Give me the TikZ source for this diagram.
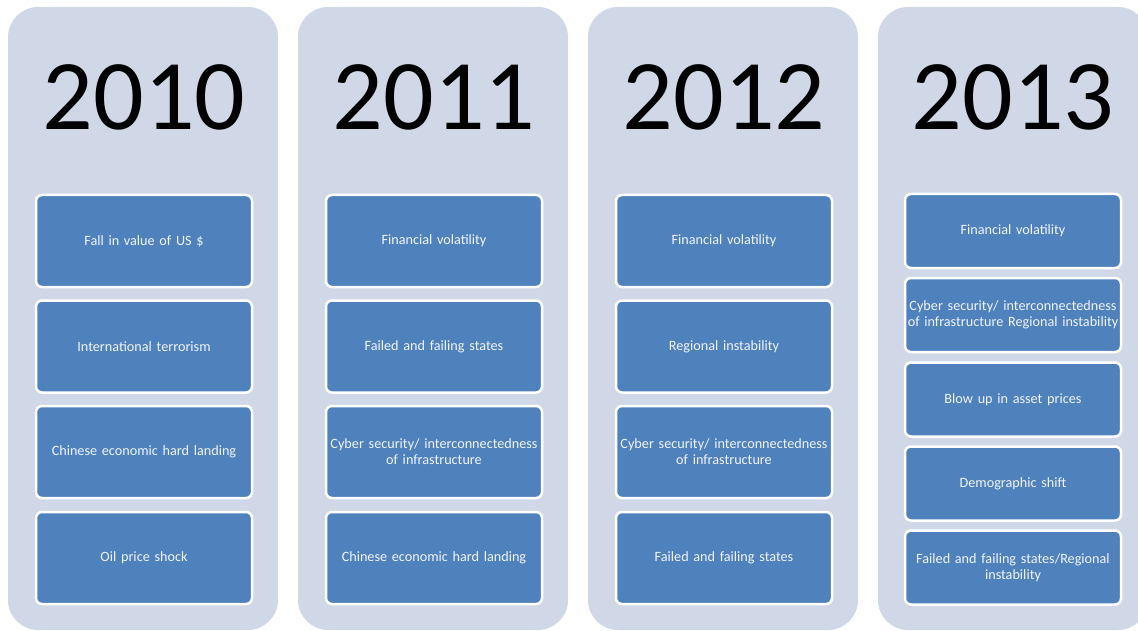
\documentclass[tikz,border=0pt]{standalone}
\usepackage{fontspec}
\setmainfont{Carlito}
\definecolor{columnback}{RGB}{208,216,232}
\definecolor{riskblue}{RGB}{79,129,189}
\definecolor{risktext}{RGB}{240,244,250}

\begin{document}
\begin{tikzpicture}[x=1pt, y=-1pt,
    column/.style={fill=columnback, rounded corners=30pt},
    year/.style={anchor=base, font=\fontsize{100}{100}\selectfont},
    risk/.style={draw=white, line width=2.5pt, fill=riskblue, rounded corners=6pt,
        text=risktext, font=\fontsize{14.2}{16}\selectfont, align=center,
        minimum width=216pt, text width=214pt, inner sep=1pt},
    risk4/.style={risk, minimum height=92pt},
    risk5/.style={risk, minimum height=74pt}]
    \clip (0,0) rectangle (1138,631);
    \fill[white] (0,0) rectangle (1138,631);
    % year columns
    \foreach \x in {8, 298, 588, 878} {
        \fill[column] (\x,7) rectangle (\x+270,630);
    }
    \node[year] (y2010) at (144,130) {2010};
    \node[year] (y2011) at (434,130) {2011};
    \node[year] (y2012) at (724,130) {2012};
    \node[year] (y2013) at (1013,130) {2013};

    % 2010
    \node[risk4] (r2010a) at (144,241) {Fall in value of US \$};
    \node[risk4] (r2010b) at (144,346.5) {International terrorism};
    \node[risk4] (r2010c) at (144,452) {Chinese economic hard landing};
    \node[risk4] (r2010d) at (144,558) {Oil price shock};

    % 2011
    \node[risk4] (r2011a) at (434,241) {Financial volatility};
    \node[risk4] (r2011b) at (434,346.5) {Failed and failing states};
    \node[risk4] (r2011c) at (434,452) {Cyber security/ interconnectedness\\of infrastructure};
    \node[risk4] (r2011d) at (434,558) {Chinese economic hard landing};

    % 2012
    \node[risk4] (r2012a) at (724,241) {Financial volatility};
    \node[risk4] (r2012b) at (724,346.5) {Regional instability};
    \node[risk4] (r2012c) at (724,452) {Cyber security/ interconnectedness\\of infrastructure};
    \node[risk4] (r2012d) at (724,558) {Failed and failing states};

    % 2013
    \node[risk5] (r2013a) at (1013,231) {Financial volatility};
    \node[risk5] (r2013b) at (1013,315) {Cyber security/ interconnectedness\\of infrastructure Regional instability};
    \node[risk5] (r2013c) at (1013,399.5) {Blow up in asset prices};
    \node[risk5] (r2013d) at (1013,483.5) {Demographic shift};
    \node[risk5] (r2013e) at (1013,567.5) {Failed and failing states/Regional\\instability};
\end{tikzpicture}
\end{document}
